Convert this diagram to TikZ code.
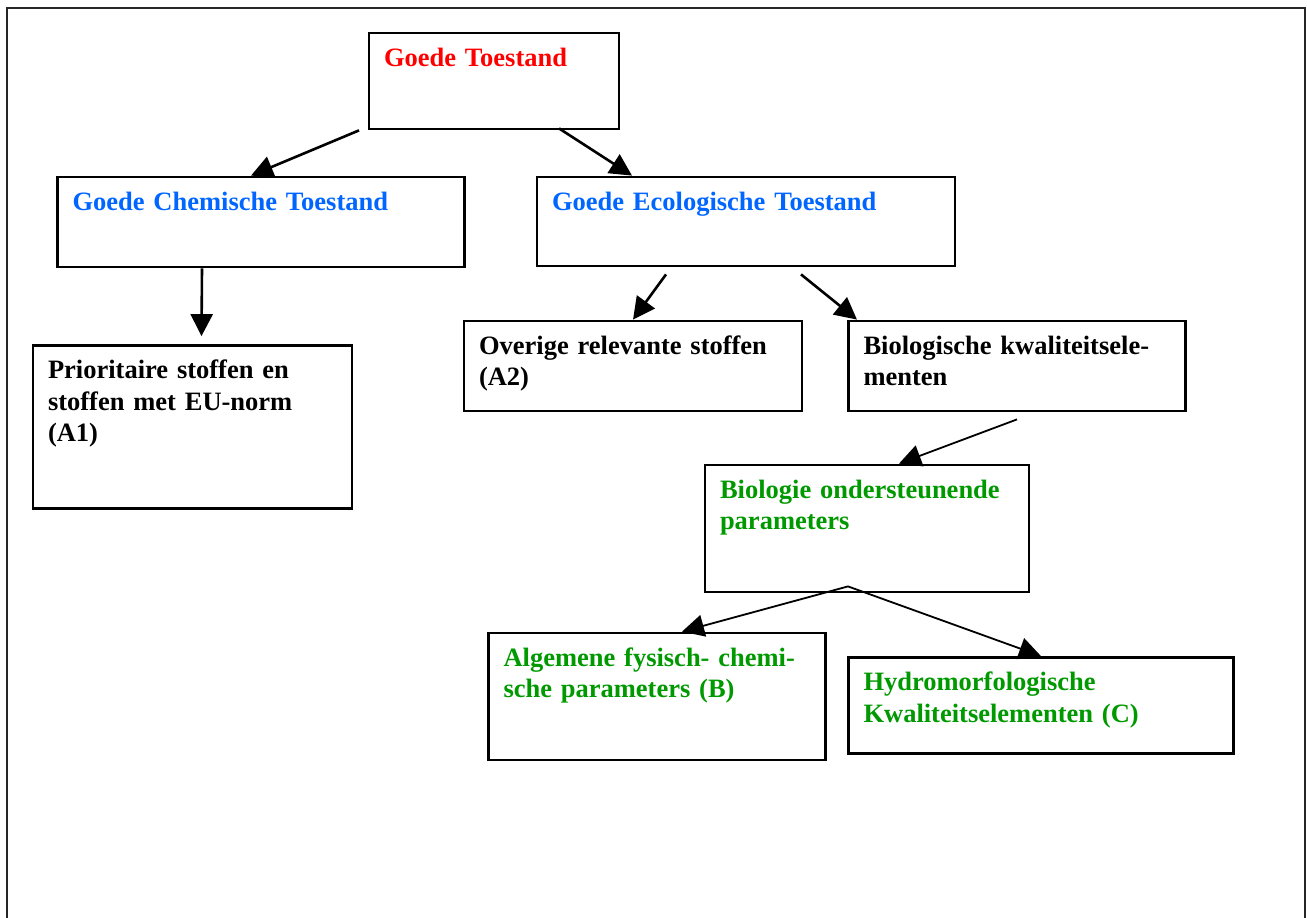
\documentclass[tikz,border=0pt]{standalone}
\usepackage{fontspec}
\setmainfont{Liberation Serif}
\usetikzlibrary{positioning,arrows.meta}

\definecolor{tred}{RGB}{255,0,0}
\definecolor{tblue}{RGB}{0,102,255}
\definecolor{tgreen}{RGB}{0,153,0}

\begin{document}
\begin{tikzpicture}[x=1pt,y=-1pt,on grid,
        font=\fontsize{26.5}{31.5}\selectfont\bfseries,
        box/.style={draw,line width=2.8pt,fill=white,align=left,
            inner xsep=15pt,inner ysep=0pt,text height=33pt},
        arr/.style={-{Triangle[length=22pt,width=22pt]},line width=2.6pt},
        thinarr/.style={line width=1.8pt}]
        \useasboundingbox (0,0) rectangle (1307,918);
        \draw[line width=2.4pt,black!85] (7,918) -- (7,8) -- (1305,8) -- (1305,918);

        \node[box,text width=220pt,text depth=63pt,text=tred] (goed) at (494,81) {Goede Toestand};
        \node[box,text width=377pt,text depth=57pt,text=tblue] (chem) [below left=141pt and 233pt of goed] {Goede Chemische Toestand};
        \node[box,text width=388pt,text depth=56pt,text=tblue] (eco) [below right=140.5pt and 252pt of goed] {Goede Ecologische Toestand};
        \node[box,text width=289pt,text depth=130pt] (prio) [below left=205pt and 68.5pt of chem] {Prioritaire stoffen en\\stoffen met EU-norm\\(A1)};
        \node[box,text width=308pt,text depth=57pt] (overig) [below left=144.5pt and 113pt of eco] {Overige relevante stoffen\\(A2)};
        \node[box,text width=307pt,text depth=57pt] (biokw) [below right=144.5pt and 271pt of eco] {Biologische kwaliteitsele-\\menten};
        \node[box,text width=294pt,text depth=94pt,text=tgreen] (bioond) [below left=162.5pt and 150pt of biokw] {Biologie ondersteunende\\parameters};
        \node[box,text width=307pt,text depth=94pt,text=tgreen] (fyschem) [below left=168pt and 210pt of bioond] {Algemene fysisch- chemi-\\sche parameters (B)};
        \node[box,text width=355pt,text depth=63pt,text=tgreen] (hydro) [below right=177pt and 174pt of bioond] {Hydromorfologische\\Kwaliteitselementen (C)};

        \coordinate (s-chem) at ([xshift=-135pt]goed.south);
        \coordinate (s-eco) at ([xshift=65pt,yshift=2pt]goed.south);
        \coordinate (s-overig) at ([xshift=-80pt,yshift=-7pt]eco.south);
        \coordinate (s-biokw) at ([xshift=55pt,yshift=-7pt]eco.south);
        \coordinate (s-bioond) at ([yshift=-7pt]biokw.south);
        \coordinate (s-onder) at ([xshift=-19pt,yshift=7pt]bioond.south);

        \path[arr]
        (s-chem) edge ([xshift=-10pt]chem.north)
        (s-eco) edge ([xshift=-114pt]eco.north)
        ([xshift=-59pt]chem.south) edge ([xshift=9pt,yshift=8pt]prio.north)
        (s-overig) edge (overig.north)
        (s-biokw) edge ([xshift=-160pt]biokw.north);
        \path[arr,thinarr]
        (s-bioond) edge ([xshift=32pt]bioond.north)
        (s-onder) edge ([xshift=25pt]fyschem.north)
        (s-onder) edge (hydro.north);
    \end{tikzpicture}
\end{document}
